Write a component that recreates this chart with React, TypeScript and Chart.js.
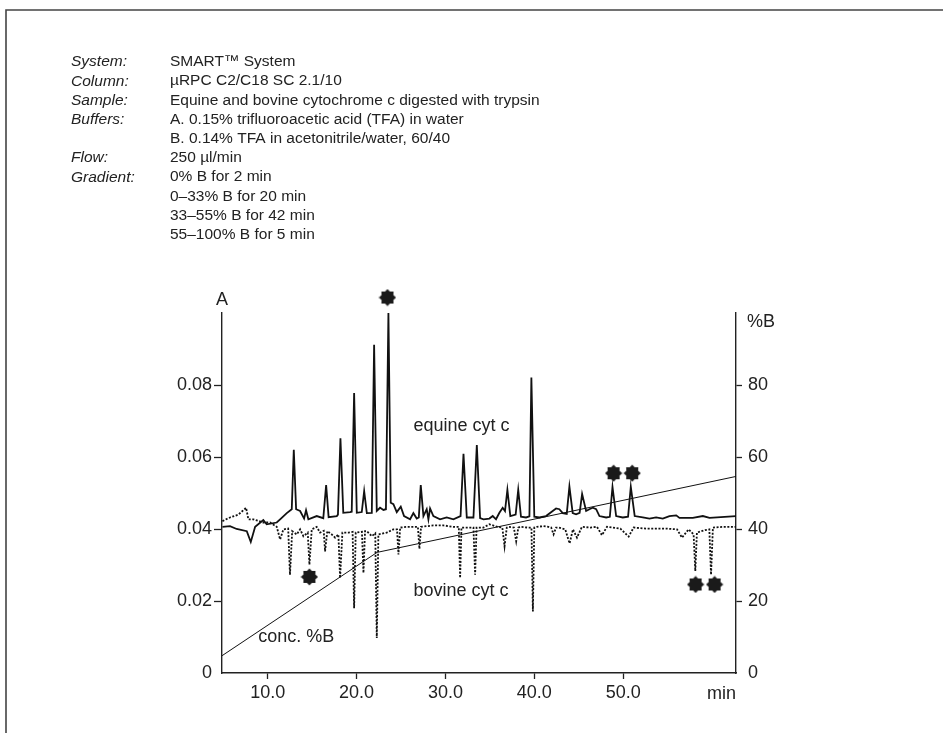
import React, { useEffect, useRef } from 'react';
import { Chart, registerables } from 'chart.js';

Chart.register(...registerables);

const FONT = "'Liberation Sans', Arial, Helvetica, sans-serif";
const INK = '#222';

// run conditions printed above the chart
const headerLabels = ['System:', 'Column:', 'Sample:', 'Buffers:', '', 'Flow:', 'Gradient:', '', '', ''];
const headerValues = [
    'SMART\u2122 System',
    '\u00b5RPC C2/C18 SC 2.1/10',
    'Equine and bovine cytochrome c digested with trypsin',
    'A. 0.15% trifluoroacetic acid (TFA) in water',
    'B. 0.14% TFA in acetonitrile/water, 60/40',
    '250 \u00b5l/min',
    '0% B for 2 min',
    '0\u201333% B for 20 min',
    '33\u201355% B for 42 min',
    '55\u2013100% B for 5 min',
];

// axes
const xTicks = [10, 20, 30, 40, 50];
const absTicks = [0, 0.02, 0.04, 0.06, 0.08];
const pctTicks = [0, 20, 40, 60, 80];

// equine cyt c trace (time in min, absorbance)
const equineTime = [
    4.9, 5.75, 6.5, 7.64, 8.09, 8.58, 9.5, 9.88, 11.01, 11.39, 12.14, 12.7, 12.93, 13.19, 13.64, 14.09,
    14.31, 14.57, 15.51, 16.25, 16.57, 16.85, 17.77, 17.9, 18.18, 18.5, 19.27, 19.45, 19.72, 20.02, 20.58,
    20.85, 21.15, 21.71, 21.97, 22.27, 22.64, 23.02, 23.3, 23.58, 23.84, 24.14, 24.52, 24.97, 25.34, 26.02,
    26.39, 26.77, 27.0, 27.22, 27.52, 27.89, 28.08, 28.27, 28.64, 29.39, 30.14, 30.89, 31.7, 32.03, 32.4,
    33.15, 33.53, 33.9, 34.28, 34.94, 35.32, 35.69, 36.07, 36.44, 36.7, 36.97, 37.3, 37.9, 38.19, 38.5,
    39.07, 39.45, 39.67, 40.0, 40.57, 41.32, 42.07, 42.45, 42.82, 43.2, 43.65, 43.95, 44.32, 44.7, 45.1,
    45.38, 45.83, 46.2, 46.58, 46.96, 47.33, 48.08, 48.5, 48.8, 49.21, 49.96, 50.55, 50.86, 51.3, 52.21,
    52.96, 53.71, 54.46, 55.21, 55.97, 56.34, 57.84, 58.97, 59.72, 62.7,
];
const equineAbs = [
    0.0406, 0.0408, 0.04, 0.0394, 0.0364, 0.0406, 0.0425, 0.0413, 0.0418, 0.0427, 0.0444, 0.0455, 0.062,
    0.0455, 0.045, 0.0429, 0.0452, 0.0427, 0.0436, 0.043, 0.0522, 0.0433, 0.0436, 0.044, 0.0652, 0.0445,
    0.0447, 0.0448, 0.0778, 0.0445, 0.0447, 0.0505, 0.0444, 0.0445, 0.0912, 0.045, 0.0459, 0.0453, 0.0455,
    0.1, 0.0473, 0.0469, 0.0447, 0.0462, 0.0436, 0.0427, 0.0444, 0.0429, 0.0432, 0.0522, 0.0436, 0.0455,
    0.0427, 0.0457, 0.0436, 0.0427, 0.0432, 0.0427, 0.0436, 0.0609, 0.0432, 0.0432, 0.0633, 0.043, 0.0427,
    0.0429, 0.0436, 0.0427, 0.0445, 0.0459, 0.045, 0.0509, 0.0436, 0.044, 0.0509, 0.0434, 0.0432, 0.0435,
    0.0821, 0.0434, 0.0432, 0.0436, 0.045, 0.0457, 0.0455, 0.0444, 0.0442, 0.0518, 0.0444, 0.0441, 0.0445,
    0.0497, 0.045, 0.0455, 0.0459, 0.0455, 0.0436, 0.0432, 0.0434, 0.0517, 0.0436, 0.0432, 0.0434, 0.0517,
    0.0436, 0.0432, 0.0429, 0.0432, 0.0429, 0.0436, 0.0438, 0.0431, 0.0431, 0.0436, 0.0431, 0.0436,
];

// bovine cyt c trace, drawn inverted below the equine one
const bovineTime = [
    4.9, 5.75, 6.7, 7.56, 7.82, 8.38, 9.5, 10.25, 11.01, 11.39, 11.76, 12.3, 12.5, 12.75, 13.26, 13.64,
    14.01, 14.5, 14.69, 14.95, 15.51, 15.89, 16.3, 16.45, 16.7, 17.2, 17.58, 17.95, 18.14, 18.4, 19.08,
    19.55, 19.72, 19.9, 20.6, 20.77, 20.95, 21.15, 21.71, 22.1, 22.27, 22.45, 23.39, 24.14, 24.55, 24.71,
    24.9, 25.65, 26.4, 26.9, 27.07, 27.25, 28.64, 29.77, 30.89, 31.5, 31.65, 31.8, 33.15, 33.34, 33.5,
    34.28, 34.94, 35.88, 36.4, 36.65, 36.9, 37.1, 37.7, 37.96, 38.2, 38.41, 39.24, 39.68, 39.84, 40.0,
    40.29, 41.04, 41.6, 41.9, 42.17, 42.45, 42.73, 43.48, 43.97, 44.35, 44.8, 45.36, 46.3, 47.05, 47.61,
    48.18, 49.68, 50.62, 51.18, 52.68, 54.93, 56.06, 56.62, 57.37, 57.93, 58.12, 58.3, 59.21, 59.7, 59.89,
    60.1, 61.27, 62.7,
];
const bovineAbs = [
    0.0422, 0.0432, 0.044, 0.0459, 0.0427, 0.0427, 0.0418, 0.0418, 0.0406, 0.0371, 0.0399, 0.0401, 0.0273,
    0.0394, 0.0385, 0.0399, 0.038, 0.039, 0.0301, 0.0399, 0.0406, 0.039, 0.0395, 0.0338, 0.0394, 0.0385,
    0.0376, 0.0385, 0.0264, 0.039, 0.039, 0.0392, 0.018, 0.039, 0.0392, 0.0278, 0.0394, 0.0394, 0.038,
    0.0388, 0.0097, 0.0385, 0.039, 0.0399, 0.0399, 0.0329, 0.0404, 0.0406, 0.0406, 0.0406, 0.0345, 0.0406,
    0.041, 0.041, 0.0406, 0.0406, 0.0264, 0.0404, 0.0404, 0.0273, 0.0404, 0.0404, 0.0413, 0.0406, 0.0404,
    0.0352, 0.0404, 0.0406, 0.0404, 0.0366, 0.0404, 0.0406, 0.0404, 0.0404, 0.0171, 0.0404, 0.0406, 0.0408,
    0.0406, 0.0404, 0.0385, 0.0404, 0.0404, 0.0399, 0.036, 0.0399, 0.0376, 0.0406, 0.0404, 0.0406, 0.0383,
    0.0406, 0.0401, 0.0379, 0.0404, 0.0401, 0.0401, 0.0399, 0.0376, 0.0399, 0.0385, 0.0283, 0.039, 0.0397,
    0.0399, 0.0273, 0.0404, 0.0406, 0.0406,
];

// gradient (%B, right axis)
const gradientTime = [4.85, 22.3, 62.7];
const gradientPct = [4.8, 33.5, 54.6];

// marked peaks
const starTime = [23.47, 14.69, 48.92, 51.02, 58.15, 60.29];
const starAbs = [0.1043, 0.0267, 0.0555, 0.0555, 0.0246, 0.0246];

// trace labels (time, absorbance)
const noteText = ['equine cyt c', 'bovine cyt c', 'conc. %B'];
const noteTime = [26.4, 26.4, 8.94];
const noteAbs = [0.0687, 0.0227, 0.0101];

const toPoints = (xs: number[], ys: number[]) => xs.map((x, i) => ({ x, y: ys[i] }));

const makeStar = () => {
    const c = document.createElement('canvas');
    c.width = 18;
    c.height = 18;
    const g = c.getContext('2d')!;
    g.fillStyle = '#1a1a1a';
    g.beginPath();
    for (let i = 0; i < 16; i++) {
        const r = i % 2 === 0 ? 8.6 : 6.4;
        const a = (Math.PI * i) / 8 - Math.PI / 2;
        const px = 9 + r * Math.cos(a);
        const py = 9 + r * Math.sin(a);
        if (i === 0) g.moveTo(px, py);
        else g.lineTo(px, py);
    }
    g.closePath();
    g.fill();
    return c;
};

const overlay = {
    id: 'overlay',
    beforeDraw(chart: any) {
        const { ctx, width, height } = chart;
        ctx.save();
        ctx.fillStyle = '#fff';
        ctx.fillRect(0, 0, width, height);
        ctx.strokeStyle = '#444';
        ctx.lineWidth = 1.6;
        ctx.beginPath();
        ctx.moveTo(6, height);
        ctx.lineTo(6, 10);
        ctx.lineTo(width, 10);
        ctx.stroke();
        ctx.restore();
    },
    afterDraw(chart: any) {
        const { ctx, chartArea } = chart;
        const xs = chart.scales.x;
        const ya = chart.scales.yA;
        ctx.save();
        ctx.fillStyle = INK;
        ctx.textBaseline = 'middle';

        // header block
        headerValues.forEach((v, i) => {
            const y = 62 + i * 19.2;
            ctx.textAlign = 'left';
            ctx.font = `italic 15.5px ${FONT}`;
            if (headerLabels[i]) ctx.fillText(headerLabels[i], 71, y);
            ctx.font = `15.5px ${FONT}`;
            ctx.fillText(v, 170, y);
        });

        // axis titles
        ctx.font = `18px ${FONT}`;
        ctx.textAlign = 'center';
        ctx.fillText('A', chartArea.left, chartArea.top - 13);
        ctx.textAlign = 'left';
        ctx.fillText('%B', chartArea.right + 11, chartArea.top + 9);
        ctx.textAlign = 'right';
        ctx.fillText('min', chartArea.right, chartArea.bottom + 21);

        // trace labels
        ctx.textAlign = 'left';
        noteText.forEach((t, i) => {
            ctx.fillText(t, xs.getPixelForValue(noteTime[i]), ya.getPixelForValue(noteAbs[i]));
        });
        ctx.restore();
    },
};

const axisGrid = (hideZero: boolean, len: number) => ({
    drawOnChartArea: false,
    drawTicks: true,
    tickLength: len,
    tickWidth: 1.3,
    color: INK,
    tickColor: (c: any) => (hideZero && c.tick && c.tick.value === 0 ? 'rgba(0,0,0,0)' : INK),
});

const App: React.FC = () => {
    const canvasRef = useRef<HTMLCanvasElement | null>(null);

    useEffect(() => {
        if (!canvasRef.current) return;
        const star = makeStar();
        const chart = new Chart(canvasRef.current, {
            type: 'line',
            data: {
                datasets: [
                    {
                        data: toPoints(starTime, starAbs),
                        yAxisID: 'yA',
                        showLine: false,
                        pointStyle: star as any,
                        // large radius so the star above the top peak is not culled
                        pointRadius: 24,
                        pointBorderWidth: 0,
                        clip: false as any,
                    },
                    {
                        data: toPoints(equineTime, equineAbs),
                        yAxisID: 'yA',
                        borderColor: '#111',
                        borderWidth: 1.8,
                        pointRadius: 0,
                    },
                    {
                        data: toPoints(bovineTime, bovineAbs),
                        yAxisID: 'yA',
                        borderColor: '#111',
                        borderWidth: 1.8,
                        borderDash: [2, 1.6],
                        pointRadius: 0,
                    },
                    {
                        data: toPoints(gradientTime, gradientPct),
                        yAxisID: 'yB',
                        borderColor: '#111',
                        borderWidth: 1,
                        pointRadius: 0,
                    },
                ],
            },
            options: {
                animation: false,
                responsive: true,
                maintainAspectRatio: false,
                layout: { padding: { left: 0, right: 0, top: 313, bottom: 20 } },
                elements: { line: { tension: 0 } },
                plugins: { legend: { display: false }, tooltip: { enabled: false } },
                scales: {
                    x: {
                        type: 'linear',
                        min: 4.85,
                        max: 62.7,
                        afterBuildTicks: (s: any) => { s.ticks = xTicks.map((v) => ({ value: v })); },
                        afterFit: (s: any) => { s.height = 40; },
                        grid: axisGrid(false, 6) as any,
                        border: { display: true, color: INK, width: 1.4 },
                        ticks: {
                            font: { family: FONT, size: 18 },
                            color: INK,
                            padding: 3,
                            maxRotation: 0,
                            autoSkip: false,
                            callback: (v: any) => Number(v).toFixed(1),
                        },
                    },
                    yA: {
                        position: 'left',
                        min: 0,
                        max: 0.1,
                        afterBuildTicks: (s: any) => { s.ticks = absTicks.map((v) => ({ value: v })); },
                        afterFit: (s: any) => { s.width = 222; },
                        grid: axisGrid(true, 8) as any,
                        border: { display: true, color: INK, width: 1.4 },
                        ticks: {
                            font: { family: FONT, size: 18 },
                            color: INK,
                            padding: 2,
                            callback: (v: any) => (Number(v) === 0 ? '0' : Number(v).toFixed(2)),
                        },
                    },
                    yB: {
                        position: 'right',
                        min: 0,
                        max: 100,
                        afterBuildTicks: (s: any) => { s.ticks = pctTicks.map((v) => ({ value: v })); },
                        afterFit: (s: any) => { s.width = 207; },
                        grid: axisGrid(true, 6) as any,
                        border: { display: true, color: INK, width: 1.4 },
                        ticks: {
                            font: { family: FONT, size: 18 },
                            color: INK,
                            padding: 6,
                            callback: (v: any) => String(v),
                        },
                    },
                },
            },
            plugins: [overlay],
        });

        return () => {
            chart.destroy();
        };
    }, []);

    return (
        <div style={{ position: 'fixed', left: 0, top: 0, width: 943, height: 733, background: '#fff' }}>
            <canvas ref={canvasRef} />
        </div>
    );
};

export default App;
